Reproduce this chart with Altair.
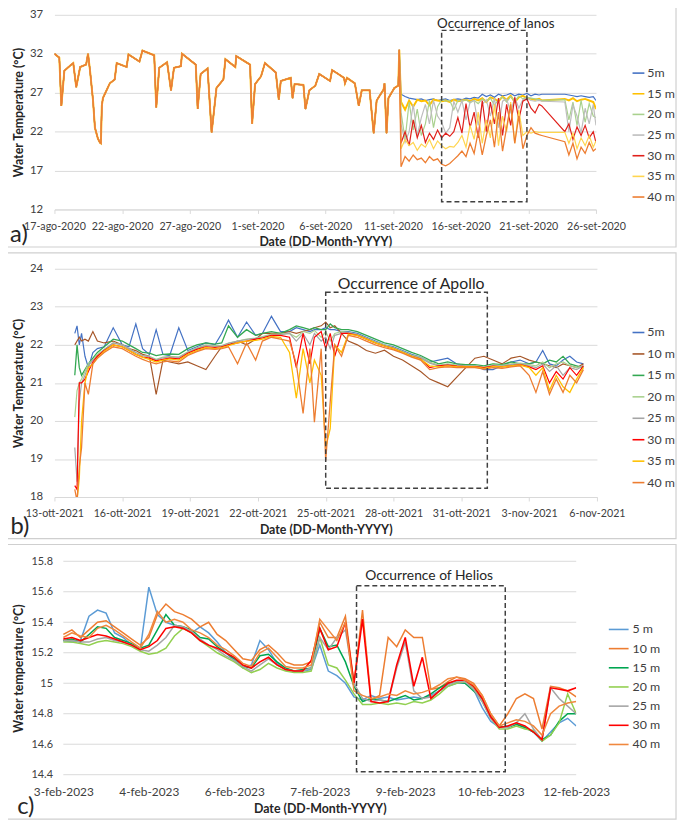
import json
import altair as alt
import pandas as pd

FONT = "Lato"
TXT = "#262626"
LBL = "#404040"
GRID = "#D9D9D9"
FRAME = "#CFCFCF"

# ---------------- panel a (Ianos) ----------------
A_NAMES = ["5m", "15 m", "20 m", "25 m", "30 m", "35 m", "40 m"]
A_COLORS = ["#4472C4", "#FFC000", "#A9D18E", "#BDBDBD", "#E0201B", "#FFD54F", "#ED7D31"]
A_WIDTHS = [1.2, 2.0, 1.2, 1.2, 1.2, 1.2, 1.3]
A_XLABELS = ["17-ago-2020", "22-ago-2020", "27-ago-2020", "1-set-2020", "6-set-2020",
             "11-set-2020", "16-set-2020", "21-set-2020", "26-set-2020"]
A_XTICKS = [0, 5, 10, 15, 20, 25, 30, 35, 40]
A_YTICKS = [12, 17, 22, 27, 32, 37]
# all depths read identically before the event (days since 17-ago-2020)
A_SHARED_DAY = [0, 0.36, 0.51, 0.73, 1.17, 1.39, 1.61, 1.90, 2.34, 2.48,
                2.63, 2.85, 2.99, 3.21, 3.36, 3.43, 3.50, 3.58, 4.09, 4.45,
                4.60, 5.33, 5.47, 6.28, 6.50, 7.37, 7.52, 7.74, 8.32, 8.61,
                8.83, 9.34, 9.42, 10.44, 10.58, 10.80, 11.31, 11.61, 11.97, 12.48,
                12.63, 13.36, 13.43, 14.45, 14.60, 14.82, 15.26, 15.55, 16.35, 16.57,
                16.72, 17.45, 17.59, 17.74, 18.39, 18.54, 18.83, 19.27, 19.56, 20.36,
                20.51, 20.88, 21.39, 21.46, 21.61, 22.19, 22.48, 22.70, 23.28, 23.58,
                23.80, 24.31, 24.38, 24.53, 24.67, 25.11, 25.40, 25.47]
A_SHARED_TEMP = [32.0, 31.5, 25.3, 29.8, 30.5, 30.8, 27.7, 30.3, 30.6, 32.0,
                 29.8, 26.0, 22.5, 21.1, 20.6, 20.5, 25.3, 26.3, 28.2, 28.7,
                 30.8, 30.3, 31.9, 31.0, 32.4, 31.8, 25.1, 30.2, 30.9, 27.3,
                 30.2, 30.4, 32.0, 30.6, 24.9, 29.4, 30.1, 21.9, 27.6, 28.7,
                 31.3, 30.3, 31.7, 30.6, 23.0, 28.1, 29.1, 30.8, 29.6, 26.1,
                 28.5, 28.9, 26.3, 28.1, 28.0, 24.9, 27.3, 27.9, 29.4, 28.5,
                 29.9, 29.5, 28.9, 28.2, 28.9, 28.2, 25.3, 27.3, 27.3, 21.8,
                 26.0, 27.4, 28.2, 21.8, 26.3, 27.6, 27.9, 32.5]
A_DAY = [25.6, 25.9, 26.2, 26.5, 26.8, 27.1, 27.4, 27.7, 28.0, 28.3,
         28.6, 28.9, 29.2, 29.5, 29.8, 30.1, 30.4, 30.7, 31.0, 31.3,
         31.6, 31.9, 32.2, 32.5, 32.8, 33.1, 33.4, 33.7, 34.0, 34.3,
         34.6, 34.9, 35.2, 35.5, 35.8, 36.0, 37.7, 38.0, 38.3, 38.6,
         38.9, 39.2, 39.5, 39.8, 40.0]
A_5M = [26.8, 26.5, 26.3, 26.2, 26.1, 26.2, 26.0, 26.1, 26.2, 26.0,
        26.1, 26.2, 26.0, 26.1, 26.2, 26.1, 26.3, 26.2, 26.4, 26.3,
        26.8, 26.5, 26.7, 26.4, 26.8, 26.6, 26.7, 26.9, 26.6, 26.8,
        26.7, 26.9, 26.6, 26.8, 26.7, 26.8, 26.8, 26.7, 26.6, 26.5,
        26.6, 26.5, 26.4, 26.5, 26.0]
A_15M = [25.8, 24.8, 26.0, 25.2, 26.1, 25.9, 26.0, 25.4, 26.1, 26.0,
         25.9, 26.0, 25.8, 26.1, 25.9, 26.0, 26.1, 25.9, 26.2, 26.0,
         26.3, 25.8, 26.4, 26.2, 25.9, 26.5, 26.1, 26.6, 25.8, 26.4,
         26.6, 26.3, 26.2, 26.1, 26.2, 26.0, 26.2, 26.0, 26.3, 25.9,
         26.1, 26.2, 26.0, 25.8, 24.9]
A_20M = [24.5, 21.0, 25.8, 22.2, 24.9, 21.5, 23.0, 26.0, 22.5, 25.2,
         26.1, 25.9, 26.0, 24.8, 26.0, 25.9, 26.1, 25.7, 26.0, 25.6,
         26.2, 25.9, 26.3, 25.4, 26.1, 26.4, 25.8, 26.5, 25.9, 26.6,
         26.2, 26.4, 26.3, 26.2, 26.1, 26.0, 26.1, 23.5, 25.8, 22.8,
         26.0, 23.2, 25.6, 24.0, 23.8]
A_25M = [23.0, 20.6, 22.0, 25.5, 21.5, 23.8, 25.5, 23.0, 26.0, 24.0,
         23.2, 21.8, 22.5, 25.9, 24.5, 26.0, 23.5, 25.8, 26.0, 22.8,
         25.5, 26.1, 24.0, 26.3, 22.5, 25.9, 26.2, 24.5, 26.4, 25.0,
         26.1, 26.3, 26.0, 25.9, 26.0, 25.9, 25.8, 22.0, 25.4, 24.0,
         21.8, 25.0, 23.0, 25.5, 22.8]
A_30M = [20.5, 22.0, 20.2, 23.5, 21.2, 22.8, 20.6, 21.8, 21.0, 22.2,
         21.2, 21.8, 21.4, 22.0, 23.8, 21.8, 25.6, 22.5, 24.5, 21.2,
         26.0, 22.0, 25.8, 23.0, 26.3, 21.5, 25.5, 22.8, 26.4, 23.5,
         25.9, 26.2, 25.0, 24.4, 25.5, 25.3, 22.0, 23.0, 21.0, 22.6,
         21.5, 22.8, 21.2, 22.0, 20.6]
A_35M = [19.8, 21.0, 20.2, 20.6, 19.6, 20.4, 20.0, 21.0, 19.8, 20.8,
         20.2, 19.8, 20.1, 20.0, 20.6, 21.5, 20.0, 22.8, 21.0, 24.5,
         20.5, 23.5, 21.2, 25.5, 20.2, 24.0, 22.0, 25.8, 20.5, 24.8,
         21.5, 22.0, 21.8, 22.0, 21.9, 21.9, 21.9, 20.5, 21.8, 19.8,
         21.2, 20.2, 21.5, 20.0, 20.8]
A_40M = [17.5, 18.8, 18.2, 19.0, 18.4, 18.6, 18.0, 18.8, 18.3, 18.5,
         17.8, 17.6, 17.9, 18.4, 18.9, 19.5, 18.8, 20.5, 19.2, 22.0,
         19.0, 21.5, 23.5, 20.0, 24.5, 19.5, 22.5, 25.5, 20.5, 24.0,
         19.8, 21.5, 22.5, 21.8, 21.6, 21.5, 20.7, 19.0, 20.5, 18.5,
         20.0, 19.2, 20.6, 19.5, 19.8]
A_BOX = [28.6, 34.9, 35.0, 13.0]
A_NOTE = "Occurrence of Ianos"
A_NOTE_AT = [32.6, 35.85]

# ---------------- panel b (Apollo) ----------------
B_NAMES = ["5m", "10 m", "15 m", "20 m", "25 m", "30 m", "35 m", "40 m"]
B_COLORS = ["#4472C4", "#A65628", "#33A852", "#A9D18E", "#A5A5A5", "#FF0000", "#FFC000", "#ED7D31"]
B_WIDTHS = [1.2, 1.2, 1.3, 1.2, 1.2, 1.2, 1.3, 1.3]
B_XLABELS = ["13-ott-2021", "16-ott-2021", "19-ott-2021", "22-ott-2021", "25-ott-2021",
             "28-ott-2021", "31-ott-2021", "3-nov-2021", "6-nov-2021"]
B_XTICKS = [0, 3, 6, 9, 12, 15, 18, 21, 24]
B_YTICKS = [18, 19, 20, 21, 22, 23, 24]
B_DAY = [0.9, 1.0, 1.1, 1.2, 1.35, 1.5, 1.7, 1.9, 2.2, 2.6,
         3.0, 3.3, 3.6, 3.9, 4.2, 4.5, 4.8, 5.1, 5.5, 5.9,
         6.3, 6.7, 7.1, 7.4, 7.7, 8.1, 8.5, 8.9, 9.2, 9.6,
         10.0, 10.4, 10.7, 11.0, 11.3, 11.5, 11.8, 12.0, 12.2, 12.4,
         12.7, 13.0, 13.4, 13.8, 14.2, 14.6, 15.0, 15.4, 15.8, 16.2,
         16.6, 17.0, 17.4, 17.8, 18.2, 18.6, 19.0, 19.4, 19.8, 20.2,
         20.6, 21.0, 21.3, 21.6, 21.9, 22.2, 22.5, 22.8, 23.1, 23.4]
B_5M = [22.3, 22.5, 22.0, 22.3, 21.7, 21.4, 21.8, 21.9, 21.95, 22.45,
        22.0, 21.95, 22.55, 21.9, 21.75, 22.4, 21.75, 21.72, 22.45, 21.85,
        21.95, 22.05, 22.0, 22.3, 22.65, 22.2, 22.6, 22.25, 22.3, 22.75,
        22.35, 22.35, 22.45, 22.4, 22.35, 22.4, 22.4, 22.45, 22.4, 22.4,
        22.35, 22.35, 22.3, 22.2, 22.1, 22.0, 21.95, 21.85, 21.75, 21.68,
        21.55, 21.6, 21.65, 21.5, 21.45, 21.45, 21.35, 21.35, 21.45, 21.55,
        21.6, 21.5, 21.55, 21.85, 21.5, 21.45, 21.6, 21.7, 21.55, 21.5]
B_10M = [22.0, 22.1, 22.2, 22.1, 22.15, 22.1, 22.35, 22.1, 22.05, 22.1,
         22.0, 21.9, 21.85, 21.75, 21.7, 20.7, 21.6, 21.55, 21.5, 21.55,
         21.45, 21.35, 21.7, 21.95, 22.0, 22.1, 22.0, 22.15, 22.3, 22.3,
         22.3, 22.35, 22.3, 22.35, 22.4, 22.45, 22.5, 22.6, 22.45, 22.5,
         22.3, 22.1, 22.0, 21.85, 21.78, 21.86, 21.7, 21.6, 21.45, 21.3,
         21.1, 21.0, 20.9, 21.15, 21.4, 21.65, 21.7, 21.6, 21.5, 21.65,
         21.7, 21.6, 21.55, 21.5, 21.45, 21.4, 21.5, 21.45, 21.4, 21.5]
B_15M = [21.2, 22.0, 21.4, 21.2, 21.35, 21.5, 21.65, 21.8, 21.95, 22.15,
         22.1, 22.0, 21.9, 21.8, 21.78, 21.72, 21.75, 21.76, 21.75, 21.9,
         22.0, 22.05, 22.02, 22.05, 22.5, 22.2, 22.4, 22.25, 22.3, 22.35,
         22.3, 22.4, 22.5, 22.45, 22.4, 22.45, 22.4, 22.4, 22.55, 22.45,
         22.4, 22.4, 22.35, 22.25, 22.15, 22.05, 22.0, 21.9, 21.8, 21.72,
         21.6, 21.5, 21.55, 21.5, 21.48, 21.48, 21.45, 21.5, 21.48, 21.55,
         21.5, 21.5, 21.55, 21.5, 21.6, 21.55, 21.7, 21.5, 21.45, 21.4]
B_20M = [20.1, 20.8, 21.0, 21.1, 21.3, 21.5, 21.6, 21.75, 21.88, 22.05,
         22.0, 21.9, 21.8, 21.72, 21.7, 21.62, 21.68, 21.7, 21.68, 21.82,
         21.92, 22.0, 21.98, 21.98, 22.05, 22.1, 22.15, 22.18, 22.22, 22.28,
         22.28, 22.3, 22.2, 22.35, 22.3, 22.38, 22.2, 22.35, 22.1, 22.3,
         22.35, 22.33, 22.28, 22.18, 22.08, 22.0, 21.93, 21.83, 21.73, 21.67,
         21.55, 21.47, 21.5, 21.47, 21.45, 21.45, 21.42, 21.47, 21.46, 21.5,
         21.52, 21.48, 21.45, 21.55, 21.4, 21.5, 21.55, 21.45, 21.4, 21.45]
B_25M = [19.3, 18.4, 20.5, 21.0, 21.2, 21.45, 21.6, 21.7, 21.87, 22.05,
         22.0, 21.9, 21.8, 21.72, 21.68, 21.6, 21.66, 21.68, 21.67, 21.8,
         21.9, 21.98, 21.96, 21.97, 22.04, 22.1, 22.14, 22.17, 22.2, 22.26,
         22.27, 22.3, 22.1, 22.3, 22.0, 22.3, 22.1, 22.2, 21.9, 22.25,
         22.3, 22.32, 22.27, 22.17, 22.07, 21.98, 21.92, 21.82, 21.72, 21.65,
         21.52, 21.45, 21.48, 21.45, 21.44, 21.44, 21.4, 21.45, 21.44, 21.48,
         21.5, 21.45, 21.4, 21.5, 21.3, 21.45, 21.2, 21.4, 21.35, 21.45]
B_30M = [18.3, 18.2, 21.0, 21.0, 21.1, 21.3, 21.55, 21.7, 21.85, 22.0,
         21.95, 21.85, 21.75, 21.68, 21.65, 21.58, 21.62, 21.65, 21.63, 21.78,
         21.88, 21.95, 21.93, 21.95, 22.0, 22.05, 22.1, 22.15, 22.18, 22.25,
         22.25, 22.2, 21.4, 22.3, 21.5, 22.2, 22.35, 21.9, 22.3, 21.7,
         22.3, 22.3, 22.25, 22.15, 22.05, 21.97, 21.9, 21.8, 21.7, 21.63,
         21.4, 21.45, 21.47, 21.44, 21.43, 21.43, 21.4, 21.44, 21.42, 21.45,
         21.48, 21.42, 21.35, 21.45, 21.0, 21.3, 21.1, 21.4, 21.2, 21.45]
B_35M = [18.0, 17.9, 18.5, 20.0, 21.0, 21.4, 21.5, 21.65, 21.83, 22.0,
         21.95, 21.85, 21.75, 21.67, 21.62, 21.55, 21.6, 21.63, 21.6, 21.75,
         21.85, 21.93, 21.9, 21.93, 21.98, 22.05, 22.1, 22.12, 22.15, 22.22,
         22.2, 21.8, 20.6, 21.9, 21.0, 21.6, 21.2, 19.3, 19.8, 22.0,
         21.8, 22.28, 22.25, 22.15, 22.05, 21.97, 21.9, 21.8, 21.7, 21.62,
         21.45, 21.42, 21.45, 21.43, 21.42, 21.42, 21.38, 21.43, 21.42, 21.45,
         21.47, 21.4, 21.2, 21.4, 20.8, 21.2, 20.9, 20.75, 21.1, 21.4]
B_40M = [18.2, 17.9, 18.8, 19.3, 21.0, 20.7, 21.5, 21.65, 21.8, 21.95,
         21.9, 21.8, 21.7, 21.62, 21.55, 21.5, 21.55, 21.58, 21.55, 21.72,
         21.82, 21.9, 21.88, 21.9, 21.95, 21.5, 22.05, 21.6, 22.1, 22.2,
         22.15, 22.1, 21.5, 20.2, 21.9, 19.97, 21.9, 18.96, 20.5, 22.0,
         21.7, 22.25, 22.2, 22.1, 22.0, 21.93, 21.87, 21.78, 21.68, 21.6,
         21.35, 21.4, 21.42, 21.4, 21.4, 21.4, 21.36, 21.4, 21.38, 21.42,
         21.45, 21.2, 20.75, 21.3, 20.7, 21.1, 20.75, 21.2, 21.0, 21.35]
B_BOX = [12.0, 19.15, 23.38, 18.23]
B_NOTE = "Occurrence of Apollo"
B_NOTE_AT = [15.78, 23.6]

# ---------------- panel c (Helios) ----------------
C_NAMES = ["5 m", "10 m", "15 m", "20 m", "25 m", "30 m", "40 m"]
C_COLORS = ["#5B9BD5", "#ED7D31", "#00A651", "#92D050", "#A5A5A5", "#FF0000", "#F0883E"]
C_WIDTHS = [1.5, 1.5, 1.5, 1.5, 1.5, 1.6, 1.5]
C_XLABELS = ["3-feb-2023", "4-feb-2023", "6-feb-2023", "7-feb-2023",
             "9-feb-2023", "10-feb-2023", "12-feb-2023"]
C_XTICKS = [0, 1, 2, 3, 4, 5, 6]
C_YTICKS = [14.4, 14.6, 14.8, 15.0, 15.2, 15.4, 15.6, 15.8]
C_X = [0.0, 0.1, 0.2, 0.3, 0.4, 0.5, 0.6, 0.7, 0.8, 0.9,
       1.0, 1.1, 1.2, 1.3, 1.4, 1.5, 1.6, 1.7, 1.8, 1.9,
       2.0, 2.1, 2.2, 2.3, 2.4, 2.5, 2.6, 2.7, 2.8, 2.9,
       3.0, 3.1, 3.2, 3.3, 3.4, 3.5, 3.6, 3.7, 3.8, 3.9,
       4.0, 4.1, 4.2, 4.3, 4.4, 4.5, 4.6, 4.7, 4.8, 4.9,
       5.0, 5.1, 5.2, 5.3, 5.4, 5.5, 5.6, 5.7, 5.8, 5.9,
       6.0]
C_5M = [15.28, 15.27, 15.28, 15.44, 15.48, 15.46, 15.33, 15.30, 15.25, 15.22,
        15.63, 15.45, 15.40, 15.38, 15.37, 15.33, 15.37, 15.33, 15.27, 15.20,
        15.15, 15.10, 15.12, 15.28, 15.22, 15.13, 15.09, 15.08, 15.08, 15.09,
        15.25, 15.08, 15.05, 15.00, 14.91, 14.89, 14.92, 14.90, 14.91, 14.89,
        14.90, 14.91, 14.90, 14.92, 14.95, 14.98, 15.00, 15.00, 14.96, 14.84,
        14.75, 14.71, 14.72, 14.73, 14.71, 14.68, 14.62, 14.68, 14.74, 14.77,
        14.72]
C_10M = [15.32, 15.35, 15.30, 15.35, 15.40, 15.41, 15.37, 15.33, 15.29, 15.25,
         15.30, 15.45, 15.52, 15.47, 15.45, 15.42, 15.37, 15.40, 15.32, 15.28,
         15.22, 15.16, 15.15, 15.22, 15.25, 15.20, 15.14, 15.12, 15.12, 15.14,
         15.40, 15.30, 15.30, 15.44, 15.00, 15.48, 14.89, 14.92, 15.30, 15.24,
         15.35, 15.30, 15.30, 14.96, 14.97, 15.01, 15.04, 15.03, 15.00, 14.92,
         14.80, 14.72, 14.80, 14.90, 14.93, 14.90, 14.70, 14.98, 14.97, 14.95,
         14.91]
C_15M = [15.28, 15.29, 15.27, 15.32, 15.37, 15.36, 15.30, 15.28, 15.26, 15.23,
         15.25, 15.35, 15.45, 15.38, 15.37, 15.35, 15.30, 15.29, 15.24, 15.20,
         15.16, 15.11, 15.10, 15.18, 15.19, 15.14, 15.10, 15.08, 15.09, 15.10,
         15.36, 15.24, 15.25, 15.14, 14.98, 14.88, 14.90, 14.89, 14.88, 14.90,
         14.92, 14.89, 14.90, 14.93, 14.97, 15.00, 15.01, 15.00, 14.95, 14.90,
         14.78, 14.72, 14.71, 14.73, 14.71, 14.68, 14.63, 14.66, 14.75, 14.80,
         14.80]
C_20M = [15.27, 15.27, 15.26, 15.25, 15.27, 15.28, 15.27, 15.26, 15.24, 15.21,
         15.19, 15.20, 15.23, 15.31, 15.36, 15.33, 15.28, 15.24, 15.20, 15.17,
         15.14, 15.10, 15.07, 15.09, 15.13, 15.10, 15.08, 15.07, 15.07, 15.08,
         15.30, 15.12, 15.10, 15.02, 14.93, 14.86, 14.86, 14.87, 14.86, 14.87,
         14.86, 14.88, 14.87, 14.89, 14.93, 14.98, 15.00, 15.01, 14.97, 14.88,
         14.77, 14.70, 14.70, 14.72, 14.70, 14.69, 14.62, 14.66, 14.74, 14.93,
         14.80]
C_25M = [15.28, 15.28, 15.27, 15.27, 15.29, 15.30, 15.28, 15.27, 15.25, 15.22,
         15.21, 15.25, 15.30, 15.38, 15.37, 15.34, 15.29, 15.25, 15.22, 15.18,
         15.15, 15.11, 15.08, 15.12, 15.16, 15.12, 15.09, 15.08, 15.08, 15.10,
         15.30, 15.22, 15.30, 15.35, 15.00, 14.90, 14.88, 14.89, 14.88, 15.10,
         15.27, 14.95, 14.90, 14.91, 14.95, 14.99, 15.01, 15.01, 14.96, 14.88,
         14.77, 14.71, 14.71, 14.74, 14.80, 14.70, 14.63, 14.97, 14.90, 14.85,
         14.80]
C_30M = [15.29, 15.30, 15.28, 15.30, 15.32, 15.31, 15.29, 15.27, 15.25, 15.22,
         15.24, 15.28, 15.36, 15.37, 15.36, 15.33, 15.28, 15.25, 15.23, 15.20,
         15.17, 15.12, 15.10, 15.14, 15.17, 15.12, 15.09, 15.08, 15.08, 15.15,
         15.36, 15.22, 15.24, 15.40, 15.00, 15.42, 14.88, 14.87, 14.88, 15.12,
         15.30, 14.98, 15.17, 14.90, 14.95, 15.00, 15.02, 15.02, 14.98, 14.90,
         14.78, 14.71, 14.72, 14.74, 14.72, 14.68, 14.63, 14.97, 14.96, 14.95,
         14.97]
C_40M = [15.30, 15.33, 15.31, 15.30, 15.36, 15.38, 15.35, 15.31, 15.27, 15.23,
         15.32, 15.47, 15.40, 15.42, 15.40, 15.35, 15.33, 15.30, 15.25, 15.22,
         15.18, 15.13, 15.11, 15.20, 15.23, 15.17, 15.11, 15.10, 15.10, 15.12,
         15.42, 15.35, 15.28, 15.40, 14.95, 14.92, 14.90, 14.91, 14.93, 14.92,
         14.95, 14.93, 14.94, 14.96, 14.99, 15.03, 15.04, 15.02, 14.99, 14.92,
         14.80, 14.72, 14.74, 14.76, 14.75, 14.72, 14.66, 14.80, 14.85, 14.87,
         14.88]
C_BOX = [3.43, 5.17, 15.64, 14.42]
C_NOTE = "Occurrence of Helios"
C_NOTE_AT = [4.28, 15.70]


def make_df(xs, names, series, shared_x=(), shared_v=()):
    rows = []
    for name, vals in zip(names, series):
        assert len(vals) == len(xs), name
        for x, v in zip(list(shared_x) + list(xs), list(shared_v) + list(vals)):
            rows.append({"t": x, "v": v, "s": name})
    return pd.DataFrame(rows)


ONE = pd.DataFrame({"k": [0]})


def panel(df, names, colors, widths, xdom, xticks, xlabels, xstep, ydom, yticks, yfmt,
          ytitle, w, h, box, note, note_at, note_size, leg, frame, tag, tag_at, ax,
          xrange=None):
    expr = json.dumps(xlabels) + "[round(datum.value / %s)]" % xstep
    own_grid = xrange is not None
    xa = alt.Axis(values=xticks, labelExpr=expr, title="Date (DD-Month-YYYY)",
                  titleFont=FONT, titleFontSize=12.5, titleFontWeight="bold", titleColor=TXT,
                  titlePadding=ax["xtp"], labelFont=FONT, labelFontSize=ax["xls"],
                  labelColor=LBL, labelPadding=ax["xlp"], labelFlush=False,
                  labelOverlap=False, grid=False, domain=not own_grid, domainColor=GRID,
                  tickColor=GRID, ticks=ax["ticks"], tickSize=4)
    ya = alt.Axis(values=yticks, format=yfmt, title=ytitle, titleFont=FONT,
                  titleFontSize=12.5, titleFontWeight="bold", titleColor=TXT,
                  titlePadding=ax["ytp"], labelFont=FONT, labelFontSize=ax["yls"],
                  labelColor=LBL, labelPadding=ax["ylp"], domain=False, ticks=False,
                  grid=not own_grid, gridColor=GRID, gridWidth=1)
    if own_grid:
        xscale = alt.Scale(domain=xdom, range=xrange, nice=False, zero=False)
    else:
        xscale = alt.Scale(domain=xdom, nice=False, zero=False)
    X = alt.X("t:Q", scale=xscale, axis=xa)
    Y = alt.Y("v:Q", scale=alt.Scale(domain=ydom, nice=False, zero=False), axis=ya)
    legend = alt.Legend(title=None, orient="none", legendX=leg["x"], legendY=leg["y"],
                        symbolType="stroke", symbolSize=leg["sym"], symbolStrokeWidth=1.6,
                        labelFont=FONT, labelFontSize=12.5, labelColor=LBL,
                        rowPadding=leg["row"], labelOffset=leg["off"], padding=0)
    color = alt.Color("s:N", scale=alt.Scale(domain=names, range=colors), legend=legend)

    layers = [alt.Chart(ONE).mark_rect(fillOpacity=0, stroke=FRAME, strokeWidth=1.2).encode(
        x=alt.value(frame[0]), x2=alt.value(frame[1]), y=alt.value(frame[2]), y2=alt.value(frame[3]))]
    if own_grid:
        gdf = pd.DataFrame({"v": yticks})
        layers.append(alt.Chart(gdf).mark_rule(color=GRID, strokeWidth=1).encode(
            y=Y, x=alt.value(xrange[0]), x2=alt.value(xrange[1])))
    for n, wd in zip(names, widths):
        layers.append(alt.Chart(df).transform_filter(alt.datum.s == n)
                      .mark_line(strokeWidth=wd, clip=True)
                      .encode(x=X, y=Y, color=color))
    box_df = pd.DataFrame({"t": [box[0]], "t2": [box[1]], "v": [box[2]], "v2": [box[3]]})
    layers.append(alt.Chart(box_df).mark_rect(fillOpacity=0, stroke="#404040", strokeWidth=1.5,
                                              strokeDash=[5, 3]).encode(x=X, x2="t2", y=Y, y2="v2"))
    note_df = pd.DataFrame({"t": [note_at[0]], "v": [note_at[1]], "label": [note]})
    layers.append(alt.Chart(note_df).mark_text(font=FONT, fontSize=note_size, color=TXT,
                                               align="center", baseline="middle").encode(
        x=X, y=Y, text="label:N"))
    layers.append(alt.Chart(ONE).mark_text(text=tag, font=FONT, fontSize=24, color=TXT,
                                           align="center", baseline="middle").encode(
        x=alt.value(tag_at[0]), y=alt.value(tag_at[1])))
    return alt.layer(*layers).properties(width=w, height=h)


dfa = make_df(A_DAY, A_NAMES, [A_5M, A_15M, A_20M, A_25M, A_30M, A_35M, A_40M],
              A_SHARED_DAY, A_SHARED_TEMP)
dfb = make_df(B_DAY, B_NAMES, [B_5M, B_10M, B_15M, B_20M, B_25M, B_30M, B_35M, B_40M])
dfc = make_df(C_X, C_NAMES, [C_5M, C_10M, C_15M, C_20M, C_25M, C_30M, C_40M])

pa = panel(dfa, A_NAMES, A_COLORS, A_WIDTHS, [0, 40], A_XTICKS, A_XLABELS, 5, [12, 37], A_YTICKS,
           "d", "Water Temperature (°C)", 548, 197, A_BOX, A_NOTE, A_NOTE_AT, 13.5,
           {"x": 584, "y": 52, "sym": 144, "row": 6.9, "off": 2},
           [-53, 629, -11, 235], "a)", [-36, 223],
           {"xtp": 4, "xls": 10.8, "xlp": 7.5, "ticks": True, "ytp": 4, "yls": 11.5, "ylp": 12})
pb = panel(dfb, B_NAMES, B_COLORS, B_WIDTHS, [0, 24], B_XTICKS, B_XLABELS, 3, [18, 24], B_YTICKS,
           "d", "Water Temperature (°C)", 549, 231, B_BOX, B_NOTE, B_NOTE_AT, 16,
           {"x": 584, "y": 57.5, "sym": 144, "row": 7.7, "off": 2},
           [-53, 629, -16, 273], "b)", [-35, 261],
           {"xtp": 5.5, "xls": 10.8, "xlp": 6.5, "ticks": True, "ytp": 4, "yls": 11.5, "ylp": 12})
pc = panel(dfc, C_NAMES, C_COLORS, C_WIDTHS, [0, 6], C_XTICKS, C_XLABELS, 1, [14.4, 15.8], C_YTICKS,
           ".3~g", "Water temperature (°C)", 528, 216, C_BOX, C_NOTE, C_NOTE_AT, 14,
           {"x": 560, "y": 58, "sym": 400, "row": 1.4, "off": 3},
           [-53, 629, -17, 261], "c)", [-29, 249],
           {"xtp": 5, "xls": 12, "xlp": 12, "ticks": False, "ytp": 6, "yls": 11, "ylp": 2},
           xrange=[9, 528])

chart = (
    alt.vconcat(pa, pb, pc, spacing=4)
    .resolve_scale(color="independent", x="independent", y="independent")
    .properties(padding={"left": -7, "top": -10, "right": 0, "bottom": 0})
    .configure_view(strokeWidth=0)
)

chart.save("out.html", embed_options={"renderer": "svg", "actions": False})
